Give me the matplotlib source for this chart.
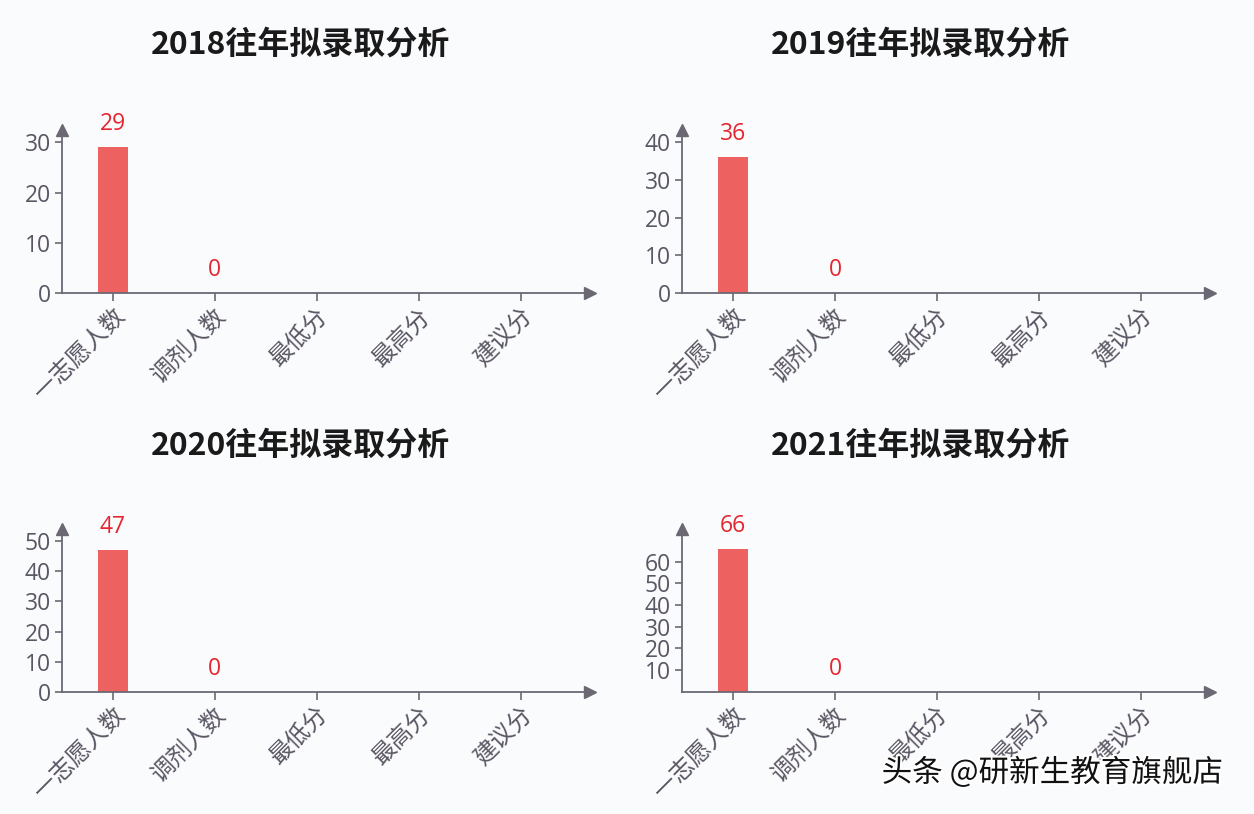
import matplotlib
matplotlib.use("Agg")
import matplotlib.pyplot as plt
import matplotlib.patheffects as pe

plt.rcParams['font.family'] = ['Open Sans', 'Noto Sans CJK SC', 'DejaVu Sans']

categories = ['一志愿人数', '调剂人数', '最低分', '最高分', '建议分']
years = ['2018', '2019', '2020', '2021']
values_2018 = [29, 0]
values_2019 = [36, 0]
values_2020 = [47, 0]
values_2021 = [66, 0]
all_values = [values_2018, values_2019, values_2020, values_2021]
yticks_per_year = [
    [0, 10, 20, 30],
    [0, 10, 20, 30, 40],
    [0, 10, 20, 30, 40, 50],
    [10, 20, 30, 40, 50, 60],
]
ytops = [32.4, 43.2, 54, 75]

BG = '#fafbfd'
AXIS = '#6b6873'
TEXT = '#5a5663'
BAR = '#ee6161'
LABEL = '#e3262f'
CJK = ['Noto Sans CJK SC', 'DejaVu Sans']

fig = plt.figure(figsize=(12.54, 8.14), dpi=100, facecolor=BG)

positions = [
    (0.0494, 0.640),
    (0.544, 0.640),
    (0.0494, 0.150),
    (0.544, 0.150),
]
title_pos = [(0.24, 0.945), (0.734, 0.945), (0.24, 0.453), (0.734, 0.453)]

for i, year in enumerate(years):
    left, bottom = positions[i]
    ax = fig.add_axes([left, bottom, 0.421, 0.200])
    ax.set_facecolor(BG)
    vals = all_values[i]
    x = list(range(len(vals)))
    ax.bar(x, vals, width=0.29, color=BAR, zorder=2)
    for xi, v in zip(x, vals):
        ax.annotate(str(v), (xi, v), xytext=(0, 8), textcoords='offset points',
                    ha='center', va='bottom', color=LABEL, fontsize=16.5)

    ax.set_xlim(-0.5, 4.68)
    ax.set_ylim(0, ytops[i])
    ax.set_xticks(range(len(categories)))
    ax.set_xticklabels(categories, rotation=45, ha='right', va='top',
                       rotation_mode='anchor', fontsize=17, color=TEXT,
                       family=CJK)
    ax.set_yticks(yticks_per_year[i])
    ax.set_yticklabels([str(t) for t in yticks_per_year[i]], fontsize=16.5, color=TEXT)
    ax.tick_params(axis='x', length=6, width=1.2, color=AXIS, pad=2)
    ax.tick_params(axis='y', length=5, width=1.2, color=AXIS, pad=3)

    for s in ['top', 'right']:
        ax.spines[s].set_visible(False)
    for s in ['left', 'bottom']:
        ax.spines[s].set_color(AXIS)
        ax.spines[s].set_linewidth(1.3)
    ax.plot(1, 0, '>', color=AXIS, markersize=9, transform=ax.transAxes, clip_on=False)
    ax.plot(0, 1, '^', color=AXIS, markersize=9, transform=ax.transAxes, clip_on=False)

    tx, ty = title_pos[i]
    fig.text(tx, ty, f'{year}往年拟录取分析', ha='center', va='center',
             fontsize=23, fontweight='bold', color='#1a1a1a', family=CJK)

fig.text(0.839, 0.051, '头条 @研新生教育旗舰店', ha='center', va='center',
         fontsize=22, color='#111111', family=CJK,
         path_effects=[pe.withStroke(linewidth=3, foreground='white')])

fig.savefig('out.png', dpi=100, facecolor=BG)
